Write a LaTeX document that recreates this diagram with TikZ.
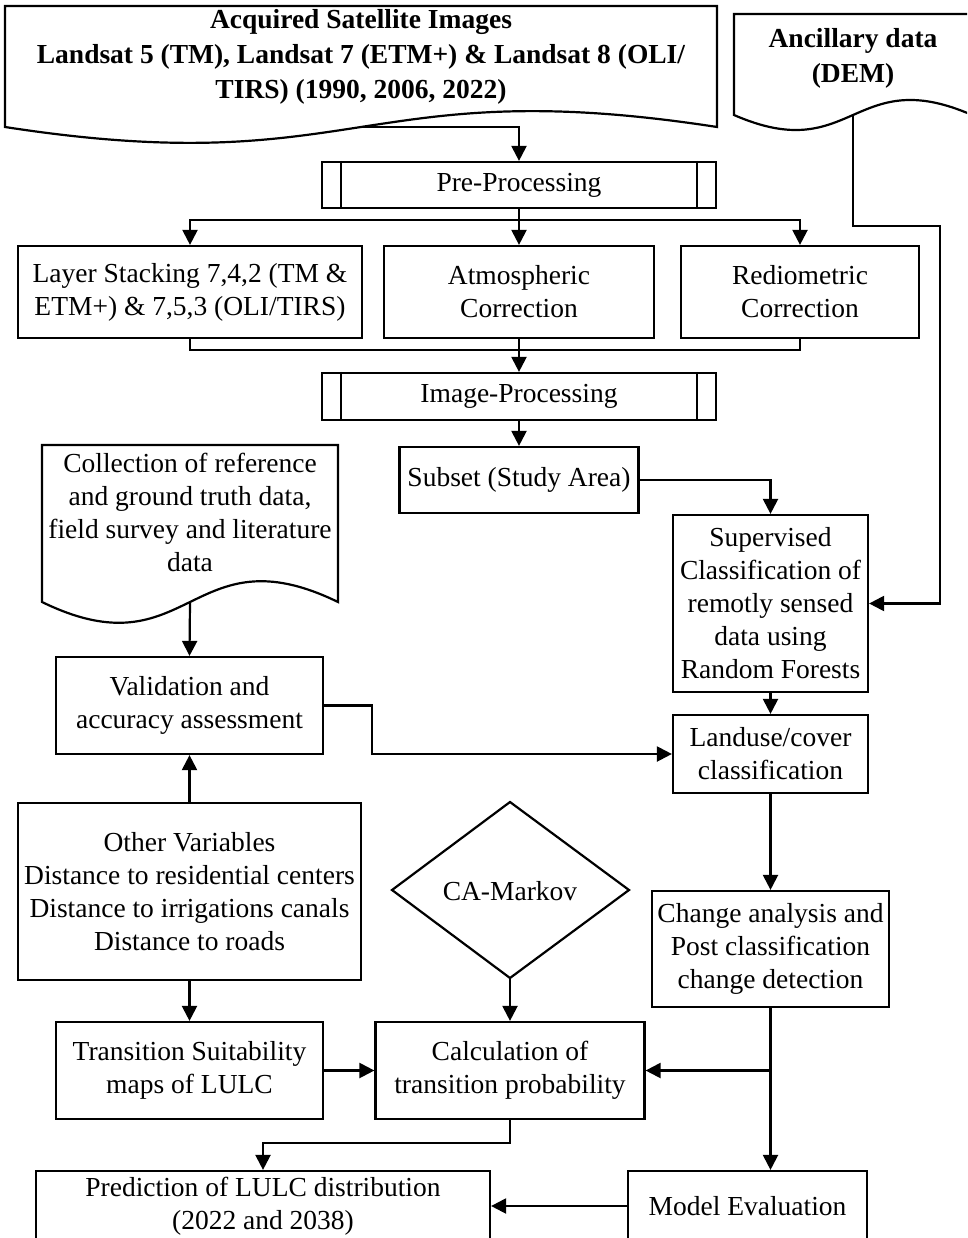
\documentclass[tikz,border=0pt]{standalone}
\usepackage{fontspec}
\setmainfont{Liberation Serif}
\usetikzlibrary{arrows.meta}
\begin{document}
\begin{tikzpicture}[x=1pt,y=-1pt,line width=2.2pt,
  txt/.style={font=\fontsize{27.5}{33}\selectfont, align=center, inner sep=0pt},
  btxt/.style={font=\bfseries\fontsize{27.5}{35}\selectfont, align=center, inner sep=0pt},
  box/.style={txt, draw, rectangle},
  arr/.style={-{Triangle[length=15pt,width=15pt]}}]
\useasboundingbox (0,0) rectangle (967,1238);
\fill[white] (0,0) rectangle (967,1238);
\clip (0,0) rectangle (967,1238);

% documents
\draw (5,127) .. controls (361,182) and (361,72) .. (717,127) -- (717,6) -- (5,6) -- cycle;
\node[btxt] (acq) at (361,57) {Acquired Satellite Images\\Landsat 5 (TM), Landsat 7 (ETM+) \& Landsat 8 (OLI/\\TIRS) (1990, 2006, 2022)};
\coordinate (acqout) at (361,127);

\draw (972,14) -- (734,14) -- (734,115) .. controls (853,167) and (853,63) .. (972,115);
\node[btxt] (anc) at (853,58) {Ancillary data\\(DEM)};
\coordinate (ancout) at (853,115);

\draw (42,602) .. controls (190,674) and (190,530) .. (338,602) -- (338,445) -- (42,445) -- cycle;
\node[txt] (coll) at (190,512) {Collection of reference\\and ground truth data,\\field survey and literature\\data};
\coordinate (collout) at (190,602);

% boxes
\node[box, minimum width=394, minimum height=46] (pre) at (519,185) {Pre-Processing};
\draw ([xshift=20pt]pre.north west) -- ([xshift=20pt]pre.south west);
\draw ([xshift=-20pt]pre.north east) -- ([xshift=-20pt]pre.south east);
\node[box, minimum width=344, minimum height=92] (layer) at (190,292) {Layer Stacking 7,4,2 (TM \&\\ETM+) \& 7,5,3 (OLI/TIRS)};
\node[box, minimum width=270, minimum height=92] (atmo) at (519,292) {Atmospheric\\Correction};
\node[box, minimum width=238, minimum height=92] (redio) at (800,292) {Rediometric\\Correction};
\node[box, minimum width=394, minimum height=47] (img) at (519,396.5) {Image-Processing};
\draw ([xshift=20pt]img.north west) -- ([xshift=20pt]img.south west);
\draw ([xshift=-20pt]img.north east) -- ([xshift=-20pt]img.south east);
\node[box, minimum width=239, minimum height=66] (subset) at (519,480) {Subset (Study Area)};
\node[box, minimum width=195, minimum height=177] (sup) at (770.5,603.5) {Supervised\\Classification of\\remotly sensed\\data using\\Random Forests};
\node[box, minimum width=195, minimum height=78] (land) at (770.5,754) {Landuse/cover\\classification};
\node[box, minimum width=267, minimum height=97] (valid) at (189.5,705.5) {Validation and\\accuracy assessment};
\node[box, minimum width=343, minimum height=177] (other) at (189.5,891.5) {Other Variables\\Distance to residential centers\\Distance to irrigations canals\\Distance to roads};
\draw (510,802) -- (629,890) -- (510,978) -- (392,890) -- cycle;
\node[txt] (ca) at (510,891) {CA-Markov};
\coordinate (cabot) at (510,978);
\node[box, minimum width=237, minimum height=116] (change) at (770.5,949) {Change analysis and\\Post classification\\change detection};
\node[box, minimum width=267, minimum height=97] (trans) at (189.5,1070.5) {Transition Suitability\\maps of LULC};
\node[box, minimum width=269, minimum height=97] (calc) at (510,1070.5) {Calculation of\\transition probability};
\node[box, minimum width=454, minimum height=70] (pred) at (263,1206) {Prediction of LULC distribution\\(2022 and 2038)};
\node[box, minimum width=239, minimum height=70] (model) at (747.5,1206) {Model Evaluation};

% connectors
\draw[arr] (acqout) -| (pre.north);
\coordinate (b1) at (519,220);
\draw (pre.south) -- (b1);
\draw[arr] (b1) -| (layer.north);
\draw[arr] (b1) -| (redio.north);
\draw[arr] (b1) -- (atmo.north);
\coordinate (b2) at (519,350);
\draw (layer.south) |- (b2);
\draw (redio.south) |- (b2);
\draw (atmo.south) -- (b2);
\draw[arr] (b2) -- (img.north);
\draw[arr] (img.south) -- (subset.north);
\draw[arr] (subset.east) -| (sup.north);
\coordinate (a1) at (940,226);
\draw[arr] (ancout) |- (a1) |- (sup.east);
\draw[arr] (sup.south) -- (land.north);
\draw[arr] (collout) -- (valid.north);
\coordinate (v1) at (372,705.5);
\draw[arr] (valid.east) -- (v1) |- (land.west);
\draw[arr] (other.north) -- (valid.south);
\draw[arr] (other.south) -- (trans.north);
\draw[arr] (cabot) -- (calc.north);
\draw[arr] (trans.east) -- (calc.west);
\draw[arr] (land.south) -- (change.north);
\draw[arr] (change.south) -- (change.south |- model.north);
\coordinate (c1) at (770.5,1070.5);
\draw[arr] (c1) -- (calc.east);
\coordinate (p1) at (510,1143);
\draw[arr] (calc.south) -- (p1) -| (pred.north);
\draw[arr] (model.west) -- (pred.east);
\end{tikzpicture}
\end{document}
